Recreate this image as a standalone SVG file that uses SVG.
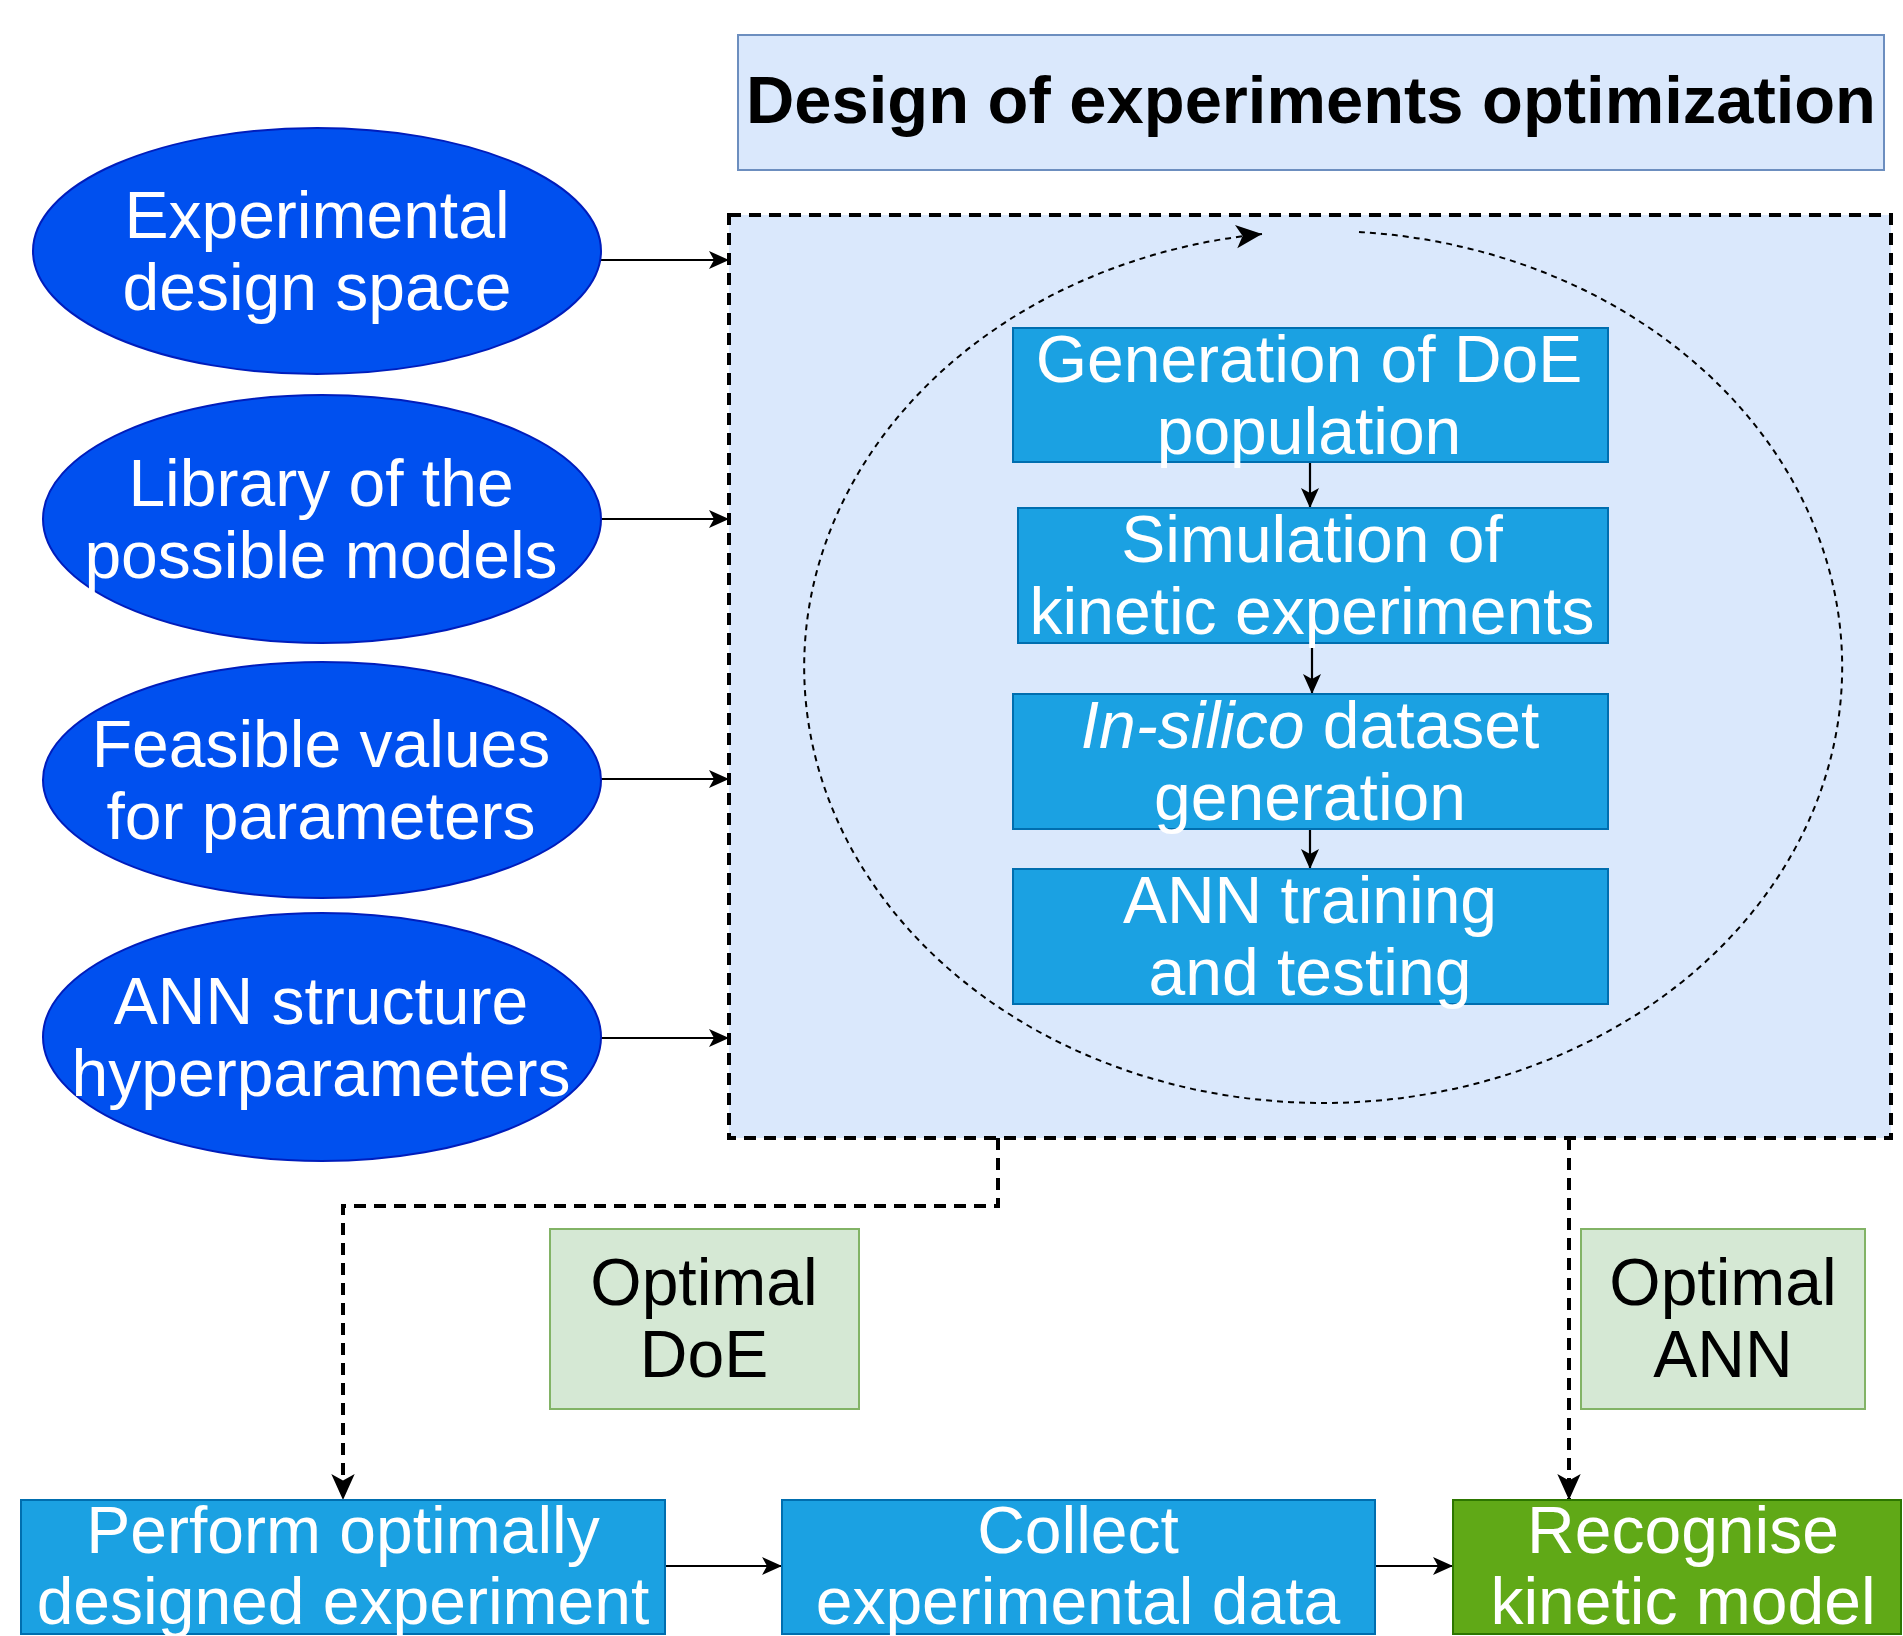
<svg xmlns="http://www.w3.org/2000/svg" width="1903" height="1636" viewBox="0 0 1903 1636">
<style>
  text { font-family: "Liberation Sans", Arial, sans-serif; font-size: 66px; text-anchor: middle; }
  .w { fill: #ffffff; }
  .k { fill: #000000; }
  .ell { fill: #0050ef; stroke: #001dbc; stroke-width: 2; }
  .proc { fill: #1ba1e2; stroke: #006eaf; stroke-width: 2; }
  .green { fill: #60a917; stroke: #2d7600; stroke-width: 2; }
  .opt { fill: #d5e8d4; stroke: #82b366; stroke-width: 2; }
  .solid { fill: none; stroke: #000; stroke-width: 2.2; }
  .dash { fill: none; stroke: #000; stroke-width: 4; stroke-dasharray: 12 8; }
  .box { fill: #dae8fc; stroke: #000; stroke-width: 4; stroke-dasharray: 12 8; }
  .loop { fill: none; stroke: #000; stroke-width: 2; stroke-dasharray: 6 5; }
</style>
<defs>
  <marker id="a" viewBox="0 0 20 20" refX="20" refY="10" markerWidth="20" markerHeight="20" markerUnits="userSpaceOnUse" orient="auto">
    <path d="M0,1 L20,10 L0,19 L5,10 z" fill="#000"/>
  </marker>
  <marker id="aL" viewBox="0 0 20 20" refX="20" refY="10" markerWidth="26" markerHeight="26" markerUnits="userSpaceOnUse" orient="auto">
    <path d="M0,1 L20,10 L0,19 L5,10 z" fill="#000"/>
  </marker>
</defs>

<rect width="1903" height="1636" fill="#ffffff"/>

<g id="title">
  <rect x="738" y="35" width="1146" height="135" fill="#dae8fc" stroke="#6c8ebf" stroke-width="2"/>
  <text x="1311" y="123" class="k" font-weight="bold" textLength="1130" lengthAdjust="spacingAndGlyphs">Design of experiments optimization</text>
</g>

<g id="container">
  <rect x="729" y="215" width="1162" height="923" class="box"/>
</g>

<g id="connectors">
  <path class="loop" d="M1359,232 A519,436 0 1 1 1262,234" marker-end="url(#aL)"/>
  <line class="solid" x1="601" y1="260" x2="729" y2="260" marker-end="url(#a)"/>
  <line class="solid" x1="601" y1="519" x2="729" y2="519" marker-end="url(#a)"/>
  <line class="solid" x1="601" y1="779" x2="729" y2="779" marker-end="url(#a)"/>
  <line class="solid" x1="601" y1="1038" x2="729" y2="1038" marker-end="url(#a)"/>
  <line class="solid" x1="1310" y1="462" x2="1310" y2="508" marker-end="url(#a)"/>
  <line class="solid" x1="1312" y1="643" x2="1312" y2="694" marker-end="url(#a)"/>
  <line class="solid" x1="1310" y1="829" x2="1310" y2="869" marker-end="url(#a)"/>
  <path class="dash" d="M998,1138 L998,1206 L343,1206 L343,1500" marker-end="url(#aL)"/>
  <path class="dash" d="M1569,1138 L1569,1500" marker-end="url(#aL)"/>
  <line class="solid" x1="665" y1="1566" x2="782" y2="1566" marker-end="url(#a)"/>
  <line class="solid" x1="1375" y1="1566" x2="1453" y2="1566" marker-end="url(#a)"/>
</g>

<g id="n-design-space">
  <ellipse class="ell" cx="317" cy="251" rx="284" ry="123"/>
  <text class="w" x="317" y="238">Experimental</text>
  <text class="w" x="317" y="310">design space</text>
</g>
<g id="n-library">
  <ellipse class="ell" cx="322" cy="519" rx="279" ry="124"/>
  <text class="w" x="321" y="506">Library of the</text>
  <text class="w" x="321" y="578">possible models</text>
</g>
<g id="n-feasible">
  <ellipse class="ell" cx="322" cy="780" rx="279" ry="118"/>
  <text class="w" x="321" y="767">Feasible values</text>
  <text class="w" x="321" y="839">for parameters</text>
</g>
<g id="n-ann-structure">
  <ellipse class="ell" cx="322" cy="1037" rx="279" ry="124"/>
  <text class="w" x="321" y="1024">ANN structure</text>
  <text class="w" x="321" y="1096">hyperparameters</text>
</g>

<g id="n-generation">
  <rect class="proc" x="1013" y="328" width="595" height="134"/>
  <text class="w" x="1309" y="382">Generation of DoE</text>
  <text class="w" x="1309" y="454">population</text>
</g>
<g id="n-simulation">
  <rect class="proc" x="1018" y="508" width="590" height="135"/>
  <text class="w" x="1312" y="562">Simulation of</text>
  <text class="w" x="1312" y="634">kinetic experiments</text>
</g>
<g id="n-insilico">
  <rect class="proc" x="1013" y="694" width="595" height="135"/>
  <text class="w" x="1310" y="748"><tspan font-style="italic">In-silico</tspan> dataset</text>
  <text class="w" x="1310" y="820">generation</text>
</g>
<g id="n-ann-training">
  <rect class="proc" x="1013" y="869" width="595" height="135"/>
  <text class="w" x="1310" y="923">ANN training</text>
  <text class="w" x="1310" y="995">and testing</text>
</g>

<g id="n-optimal-doe">
  <rect class="opt" x="550" y="1229" width="309" height="180"/>
  <text class="k" x="704" y="1305">Optimal</text>
  <text class="k" x="704" y="1377">DoE</text>
</g>
<g id="n-optimal-ann">
  <rect class="opt" x="1581" y="1229" width="284" height="180"/>
  <text class="k" x="1723" y="1305">Optimal</text>
  <text class="k" x="1723" y="1377">ANN</text>
</g>

<g id="n-perform">
  <rect class="proc" x="21" y="1500" width="644" height="134"/>
  <text class="w" x="343" y="1553">Perform optimally</text>
  <text class="w" x="343" y="1624">designed experiment</text>
</g>
<g id="n-collect">
  <rect class="proc" x="782" y="1500" width="593" height="134"/>
  <text class="w" x="1078" y="1553">Collect</text>
  <text class="w" x="1078" y="1624">experimental data</text>
</g>
<g id="n-recognise">
  <rect class="green" x="1453" y="1500" width="448" height="134"/>
  <text class="w" x="1683" y="1553">Recognise</text>
  <text class="w" x="1683" y="1624">kinetic model</text>
</g>
</svg>
